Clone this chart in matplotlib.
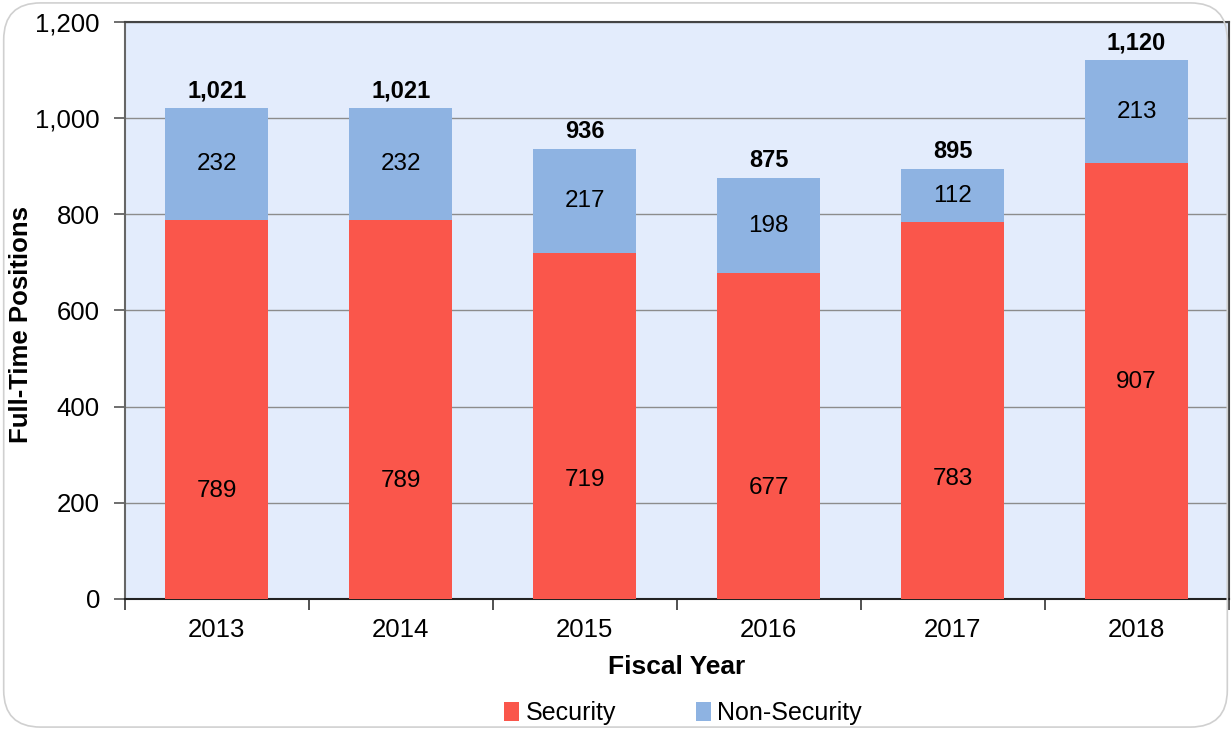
import matplotlib
matplotlib.use("Agg")
import matplotlib.pyplot as plt
import numpy as np
from matplotlib.patches import FancyBboxPatch, Patch
from matplotlib.ticker import FuncFormatter, FixedLocator

years = ["2013", "2014", "2015", "2016", "2017", "2018"]
security = [789, 789, 719, 677, 783, 907]
non_security = [232, 232, 217, 198, 112, 213]
totals = [1021, 1021, 936, 875, 895, 1120]
# vertical positions (data units) of the security value labels as placed in the reference
security_label_y = [225, 245, 247, 231, 249, 451]

plt.rcParams['font.family'] = ['Liberation Sans', 'DejaVu Sans']

RED = "#FA564B"
BLUE = "#8EB3E2"
BG = "#E3ECFC"

fig = plt.figure(figsize=(12.31, 7.30), dpi=100)
fig.patch.set_facecolor("white")
border = FancyBboxPatch((0.003, 0.004), 0.994, 0.992, boxstyle="round,pad=0,rounding_size=0.03",
                        transform=fig.transFigure, facecolor="none", edgecolor="#D0D0D0", lw=1.2,
                        mutation_aspect=1231/730)
fig.patches.append(border)

ax = fig.add_axes([0.1015, 0.1795, 0.8965, 0.7904])
ax.set_facecolor(BG)
x = np.arange(len(years))
w = 0.56
ax.bar(x, security, w, color=RED, zorder=3, label="Security")
ax.bar(x, non_security, w, bottom=security, color=BLUE, zorder=3, label="Non-Security")

for i in range(len(years)):
    ax.text(x[i], security_label_y[i], f"{security[i]:,}", ha="center", va="center", fontsize=17.5, zorder=4)
    ax.text(x[i], security[i] + non_security[i] / 2, f"{non_security[i]:,}", ha="center", va="center",
            fontsize=17.5, zorder=4)
    ax.text(x[i], totals[i] + 36, f"{totals[i]:,}", ha="center", va="center", fontsize=17,
            fontweight="bold", zorder=4)

ax.set_xlim(-0.5, len(years) - 0.5)
ax.set_ylim(0, 1200)
ax.set_yticks(np.arange(0, 1201, 200))
ax.yaxis.set_major_formatter(FuncFormatter(lambda v, p: f"{int(v):,}"))
ax.yaxis.grid(True, color="#8C8C8C", lw=1.0, zorder=1)
ax.set_xticks(x)
ax.set_xticklabels(years)
ax.xaxis.set_minor_locator(FixedLocator(np.arange(-0.5, len(years), 1.0)))
ax.tick_params(axis="x", which="major", length=0, pad=14, labelsize=18.5)
ax.tick_params(axis="x", which="minor", length=8, width=1.2, color="#333333")
ax.tick_params(axis="y", which="major", length=8, width=1.2, color="#555555", labelsize=18.5, pad=10)

ax.spines["left"].set_color("#666666")
ax.spines["left"].set_linewidth(1.5)
ax.spines["bottom"].set_color("#222222")
ax.spines["bottom"].set_linewidth(1.5)
for s in ["top", "right"]:
    ax.spines[s].set_color("#444444")
    ax.spines[s].set_linewidth(1.5)

ax.set_xlabel("Fiscal Year", fontsize=19, fontweight="bold", labelpad=9)
ax.set_ylabel("Full-Time Positions", fontsize=18.5, fontweight="bold")
ax.yaxis.set_label_coords(-0.083, 0.475)

handles = [Patch(facecolor=RED, label="Security"), Patch(facecolor=BLUE, label="Non-Security")]
fig.legend(handles=handles, loc="center", bbox_to_anchor=(0.555, 0.023), ncol=2, frameon=False,
           fontsize=18, handlelength=0.6, handleheight=0.75, handletextpad=0.25, columnspacing=3.2)

fig.savefig("out.png", dpi=100)
